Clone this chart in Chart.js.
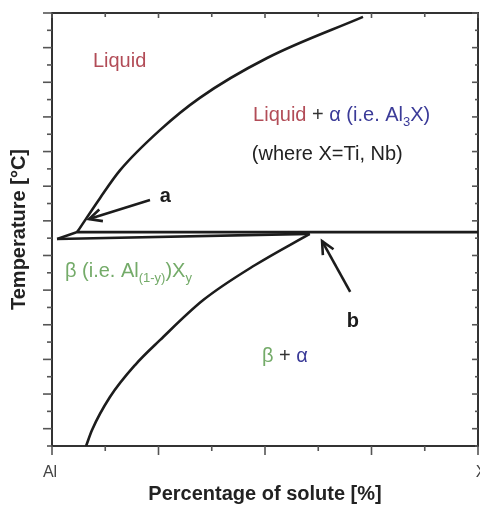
<!DOCTYPE html>
<html><head><meta charset="utf-8">
<script src="https://cdn.jsdelivr.net/npm/chart.js@4.4.0/dist/chart.umd.min.js"></script>
<style>html,body{margin:0;padding:0;background:#fff;overflow:hidden}</style>
</head><body>
<canvas id="c" width="480" height="506"></canvas>
<script>
// ---- data (x: percentage of solute 0..100, y: relative temperature 0..100) ----
const liquidusX = [5.9, 11.3, 16.0, 25.4, 34.7, 50.5, 73.0];
const liquidusY = [49.4, 57.3, 63.7, 73.0, 80.4, 89.6, 99.1];
const peritecticX = [1.2, 5.9, 100];
const peritecticY = [47.8, 49.4, 49.4];
const lowerEdgeX = [1.2, 60.5];
const lowerEdgeY = [47.8, 49.0];
const solvusX = [8.0, 9.4, 13.6, 19.5, 25.4, 35.5, 47.7, 60.5];
const solvusY = [0, 3.7, 11.3, 18.7, 24.5, 33.7, 41.8, 49.0];
const xTickValues = [0, 12.5, 25, 37.5, 50, 62.5, 75, 87.5, 100];
const yTickValues = [0, 4, 8, 12, 16, 20, 24, 28, 32, 36, 40, 44, 48, 52, 56, 60, 64, 68, 72, 76, 80, 84, 88, 92, 96, 100];
const xTickLabels = ['Al', 'X'];
const xTickLabelValues = [0, 100];
const arrowA = [[23.0, 56.8], [8.7, 52.4]];
const arrowB = [[70.0, 35.6], [63.4, 47.3]];
const markerLabels = ['a', 'b'];

const RED = '#b24c57', BLUE = '#3b3b98', GREEN = '#74ab69', DARK = '#333333', INK = '#1c1c1c';
const FONT = '"Liberation Sans", Arial, sans-serif';

function pts(xs, ys) { return xs.map((v, i) => ({ x: v, y: ys[i] })); }

const lineStyle = { showLine: true, pointRadius: 0, borderColor: INK, borderWidth: 2.6, fill: false };

function drawRich(ctx, x, y, segs, size) {
  let cx = x;
  segs.forEach(s => {
    const sz = s.sub ? Math.round(size * 0.65) : size;
    ctx.font = (s.bold ? 'bold ' : '') + sz + 'px ' + FONT;
    ctx.fillStyle = s.c;
    ctx.fillText(s.t, cx, y + (s.sub ? size * 0.25 : 0));
    cx += ctx.measureText(s.t).width;
  });
}

function arrow(ctx, X, Y, a) {
  const x1 = X(a[0][0]), y1 = Y(a[0][1]), x2 = X(a[1][0]), y2 = Y(a[1][1]);
  ctx.beginPath(); ctx.moveTo(x1, y1); ctx.lineTo(x2, y2); ctx.stroke();
  const ang = Math.atan2(y1 - y2, x1 - x2), L = 14, sp = 0.45;
  ctx.beginPath();
  ctx.moveTo(x2 + L * Math.cos(ang + sp), y2 + L * Math.sin(ang + sp));
  ctx.lineTo(x2, y2);
  ctx.lineTo(x2 + L * Math.cos(ang - sp), y2 + L * Math.sin(ang - sp));
  ctx.stroke();
}

const overlay = {
  id: 'overlay',
  afterDraw(chart) {
    const { ctx } = chart;
    const xs = chart.scales.x, ys = chart.scales.y;
    const X = v => xs.getPixelForValue(v), Y = v => ys.getPixelForValue(v);
    const L = xs.left, R = xs.right, T = ys.top, B = ys.bottom;
    ctx.save();
    ctx.strokeStyle = '#555'; ctx.lineWidth = 1.6; ctx.lineCap = 'butt';
    const seg = (a, b, c, d) => { ctx.beginPath(); ctx.moveTo(a, b); ctx.lineTo(c, d); ctx.stroke(); };
    xTickValues.forEach((v, i) => {
      const px = X(v), major = i % 2 === 0;
      seg(px, B, px, B + (major ? 9 : 5));
      seg(px, T, px, T + (major ? 5 : 4));
    });
    yTickValues.forEach((v, i) => {
      const py = Y(v), major = i % 2 === 1;
      seg(L - (major ? 9 : 5), py, L, py);
      seg(R, py, R - (major ? 6 : 3), py);
    });
    // x tick labels
    ctx.font = '16px ' + FONT; ctx.fillStyle = '#444';
    ctx.textAlign = 'center'; ctx.textBaseline = 'middle';
    xTickLabels.forEach((t, i) => ctx.fillText(t, X(xTickLabelValues[i]) + (i ? 3 : -2), B + 27));
    // region labels
    ctx.textAlign = 'left'; ctx.textBaseline = 'alphabetic';
    drawRich(ctx, X(9.6), Y(87.5), [{ t: 'Liquid', c: RED }], 20);
    drawRich(ctx, X(47.2), Y(75.1), [{ t: 'Liquid', c: RED }, { t: ' + ', c: DARK }, { t: 'α (i.e. Al', c: BLUE }, { t: '3', c: BLUE, sub: true }, { t: 'X)', c: BLUE }], 20);
    drawRich(ctx, X(46.9), Y(66.1), [{ t: '(where X=Ti, Nb)', c: '#222' }], 20);
    drawRich(ctx, X(3.05), Y(39.0), [{ t: 'β (i.e. Al', c: GREEN }, { t: '(1-y)', c: GREEN, sub: true }, { t: ')X', c: GREEN }, { t: 'y', c: GREEN, sub: true }], 20);
    drawRich(ctx, X(49.3), Y(19.4), [{ t: 'β', c: GREEN }, { t: ' + ', c: DARK }, { t: 'α', c: BLUE }], 20);
    // arrows and markers
    ctx.strokeStyle = INK; ctx.lineWidth = 2.6;
    arrow(ctx, X, Y, arrowA);
    arrow(ctx, X, Y, arrowB);
    drawRich(ctx, X(25.3), Y(56.3), [{ t: markerLabels[0], c: INK, bold: true }], 20);
    drawRich(ctx, X(69.2), Y(27.5), [{ t: markerLabels[1], c: INK, bold: true }], 20);
    ctx.restore();
  }
};

const hidden = { display: false };
new Chart(document.getElementById('c'), {
  type: 'scatter',
  data: {
    datasets: [
      { ...lineStyle, data: pts(liquidusX, liquidusY), cubicInterpolationMode: 'monotone' },
      { ...lineStyle, data: pts(peritecticX, peritecticY), tension: 0 },
      { ...lineStyle, data: pts(lowerEdgeX, lowerEdgeY), tension: 0 },
      { ...lineStyle, data: pts(solvusX, solvusY), cubicInterpolationMode: 'monotone' }
    ]
  },
  options: {
    responsive: false, animation: false, devicePixelRatio: 1,
    layout: { padding: 0 },
    plugins: { legend: hidden, tooltip: { enabled: false } },
    scales: {
      x: {
        type: 'linear', position: 'bottom', min: 0, max: 100,
        grid: { display: false, drawTicks: false }, ticks: hidden,
        border: { display: true, color: '#333', width: 2 },
        title: { display: true, text: 'Percentage of solute [%]', color: '#222', font: { family: FONT, size: 20, weight: 'bold' }, padding: { top: 0, bottom: 0 } },
        afterFit: s => { s.height = 60; }
      },
      y: {
        type: 'linear', position: 'left', min: 0, max: 100,
        grid: { display: false, drawTicks: false }, ticks: hidden,
        border: { display: true, color: '#333', width: 2 },
        title: { display: true, text: 'Temperature [°C]', color: '#222', font: { family: FONT, size: 20, weight: 'bold' }, padding: { top: 7, bottom: 0 } },
        afterFit: s => { s.width = 52; }
      },
      x2: {
        type: 'linear', position: 'top', min: 0, max: 100,
        grid: { display: false, drawTicks: false }, ticks: hidden,
        border: { display: true, color: '#333', width: 2 },
        afterFit: s => { s.height = 13; }
      },
      y2: {
        type: 'linear', position: 'right', min: 0, max: 100,
        grid: { display: false, drawTicks: false }, ticks: hidden,
        border: { display: true, color: '#333', width: 2 },
        afterFit: s => { s.width = 2; }
      }
    }
  },
  plugins: [overlay]
});
</script>
</body></html>
